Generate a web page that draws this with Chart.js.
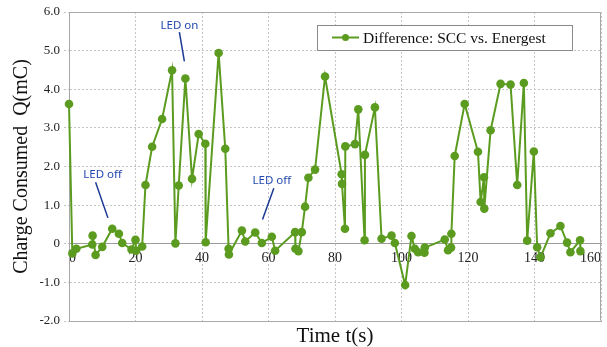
<!DOCTYPE html>
<html>
<head>
<meta charset="utf-8">
<script src="https://cdn.jsdelivr.net/npm/chart.js@4/dist/chart.umd.min.js"></script>
<style>
  html, body { margin: 0; padding: 0; background: #fff; }
</style>
</head>
<body>
<canvas id="chart" width="607" height="347"></canvas>
<script>
// series: time (s) and charge difference (mC)
const seriesLabel = 'Difference: SCC vs. Energest';
const times = [
  0, 1.0, 2.2, 7.0, 7.1, 8.0, 10.0, 13.0, 15.0, 16.0, 18.8, 20.0, 20.2, 22.0,
  23.0, 25.0, 28.0, 31.0, 32.0, 33.0, 35.0, 37.0, 39.0, 41.0, 41.1, 45.0, 47.0,
  48.0, 48.1, 52.0, 53.0, 56.0, 58.0, 61.0, 62.0, 68.0, 68.1, 69.0, 70.0, 71.0,
  72.0, 74.0, 77.0, 82.0, 82.1, 83.0, 83.1, 86.0, 87.0, 88.9, 89.0, 92.0, 94.0,
  97.0, 98.0, 101.1, 103.0, 104.0, 105.0, 106.9, 107.0, 113.0, 114.0, 114.9,
  115.0, 116.0, 119.0, 123.0, 123.8, 124.8, 124.9, 126.8, 129.8, 132.8, 134.8,
  136.8, 137.8, 139.8, 140.8, 141.8, 144.8, 147.8, 149.8, 150.8, 153.7, 153.8
];
const charge = [
  3.62, -0.25, -0.13, -0.02, 0.21, -0.29, -0.08, 0.39, 0.26, 0.02, -0.15, 0.10, -0.18, -0.07,
  1.52, 2.51, 3.23, 4.49, 0.01, 1.51, 4.28, 1.68, 2.84, 2.59, 0.04, 4.94, 2.46,
  -0.13, -0.28, 0.34, 0.06, 0.29, 0.02, 0.18, -0.18, 0.30, -0.13, -0.19, 0.30, 0.96,
  1.71, 1.92, 4.33, 1.80, 1.55, 0.39, 2.52, 2.58, 3.48, 0.09, 2.30, 3.53, 0.13,
  0.21, 0.02, -1.07, 0.20, -0.13, -0.22, -0.23, -0.10, 0.11, -0.17, -0.10,
  0.26, 2.27, 3.62, 2.38, 1.08, 1.72, 0.91, 2.94, 4.14, 4.12, 1.52,
  4.16, 0.08, 2.39, -0.09, -0.35, 0.27, 0.46, 0.03, -0.22, 0.09, -0.19
];
const xRange = [0, 160];
const yRange = [-2, 6];
const noteTexts = ['LED on', 'LED off', 'LED off'];

const green = '#5b9c20';
const gridColor = '#c4c4c4';
const frameColor = '#a8a8a8';
const serif = "'Liberation Serif', 'Times New Roman', serif";

// text notes with pointer lines, placed in data units
const notes = [
  { text: noteTexts[0], at: [33.2, 5.64], from: [33.2, 5.48], to: [34.7, 4.72] },
  { text: noteTexts[1], at: [10.1, 1.80], from: [8.0, 1.59], to: [11.7, 0.67] },
  { text: noteTexts[2], at: [61.0, 1.64], from: [61.6, 1.44], to: [58.2, 0.63] }
];

const framePlugin = {
  id: 'frame',
  beforeDatasetsDraw(chart) {
    const { ctx, chartArea: a } = chart;
    ctx.save();
    ctx.strokeStyle = frameColor;
    ctx.lineWidth = 1;
    ctx.beginPath();
    ctx.moveTo(Math.round(a.left) + 0.5, Math.round(a.top) + 0.5);
    ctx.lineTo(Math.round(a.right) - 0.5, Math.round(a.top) + 0.5);
    ctx.lineTo(Math.round(a.right) - 0.5, Math.round(a.bottom) - 0.5);
    ctx.stroke();
    ctx.restore();
  }
};

const notesPlugin = {
  id: 'notes',
  afterDatasetsDraw(chart) {
    const { ctx, scales } = chart;
    const px = (p) => [scales.x.getPixelForValue(p[0]), scales.y.getPixelForValue(p[1])];
    ctx.save();
    notes.forEach((n) => {
      const a = px(n.from), b = px(n.to), c = px(n.at);
      ctx.strokeStyle = '#1b3a94';
      ctx.lineWidth = 1.5;
      ctx.beginPath();
      ctx.moveTo(a[0], a[1]);
      ctx.lineTo(b[0], b[1]);
      ctx.stroke();
      ctx.fillStyle = '#2449b0';
      ctx.font = "11.5px 'Noto Sans', sans-serif";
      ctx.textAlign = 'center';
      ctx.textBaseline = 'middle';
      ctx.fillText(n.text, c[0], c[1]);
    });
    ctx.restore();
  }
};

const legendPlugin = {
  id: 'boxLegend',
  afterDatasetsDraw(chart) {
    const { ctx, chartArea: a } = chart;
    const right = a.right - 29, top = a.top + 13, w = 255, h = 25;
    const left = right - w, mid = top + h / 2;
    ctx.save();
    ctx.fillStyle = '#fff';
    ctx.fillRect(left, top, w, h);
    ctx.strokeStyle = '#8a8a8a';
    ctx.lineWidth = 1;
    ctx.strokeRect(Math.round(left) + 0.5, Math.round(top) + 0.5, w, h);
    ctx.strokeStyle = green;
    ctx.lineWidth = 2;
    ctx.beginPath();
    ctx.moveTo(left + 15, mid);
    ctx.lineTo(left + 42, mid);
    ctx.stroke();
    ctx.fillStyle = green;
    ctx.beginPath();
    ctx.arc(left + 28.5, mid, 3.5, 0, Math.PI * 2);
    ctx.fill();
    ctx.fillStyle = '#111';
    ctx.font = '15.5px ' + serif;
    ctx.textAlign = 'left';
    ctx.textBaseline = 'middle';
    ctx.fillText(chart.data.datasets[0].label, left + 46, mid + 1);
    ctx.restore();
  }
};

new Chart(document.getElementById('chart'), {
  type: 'scatter',
  data: {
    datasets: [
      {
        label: seriesLabel,
        data: times.map((t, i) => ({ x: t, y: charge[i] })),
        showLine: true,
        borderColor: green,
        backgroundColor: green,
        borderWidth: 2,
        pointRadius: 4.3,
        pointBorderWidth: 0,
        pointBackgroundColor: green,
        clip: false,
      },
    ],
  },
  options: {
    responsive: false,
    animation: false,
    layout: { padding: { top: 12, right: 4, left: 0, bottom: 0 } },
    plugins: {
      legend: { display: false },
      tooltip: { enabled: false },
    },
    scales: {
      x: {
        type: 'linear',
        position: 'bottom',
        min: xRange[0],
        max: xRange[1],
        ticks: { display: false, stepSize: 20 },
        grid: { color: gridColor, drawTicks: false, lineWidth: 1 },
        border: { color: frameColor, dash: [2, 2] },
        title: {
          display: true,
          text: 'Time t(s)',
          color: '#111',
          font: { family: serif, size: 21, lineHeight: 1 },
          padding: 0,
        },
        afterFit(scale) {
          scale.height = 26;
        },
      },
      x2: {
        type: 'linear',
        axis: 'x',
        position: { y: 0 },
        min: xRange[0],
        max: xRange[1],
        ticks: {
          stepSize: 20,
          align: 'inner',
          padding: 6,
          color: '#222',
          font: { family: serif, size: 14 },
        },
        grid: { display: false, drawTicks: false },
        border: { display: true, color: '#9c9c9c', width: 1 },
      },
      y: {
        type: 'linear',
        min: yRange[0],
        max: yRange[1],
        ticks: {
          stepSize: 1,
          padding: 4,
          color: '#222',
          font: { family: serif, size: 13 },
          callback: (v) => (v === 0 ? '0' : v.toFixed(1)),
        },
        grid: { color: gridColor, tickLength: 5, lineWidth: 1, tickBorderDash: [2, 2] },
        border: { color: frameColor, dash: [2, 2] },
        title: {
          display: true,
          text: 'Charge Consumed  Q(mC)',
          color: '#111',
          font: { family: serif, size: 20, lineHeight: 1 },
          padding: { top: 12, bottom: 0 },
        },
        afterFit(scale) {
          scale.width = 69;
        },
      },
    },
  },
  plugins: [framePlugin, notesPlugin, legendPlugin],
});
</script>
</body>
</html>
